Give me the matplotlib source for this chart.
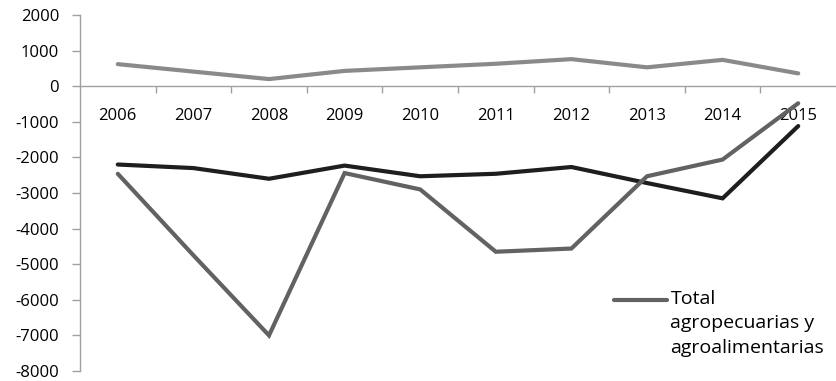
import matplotlib
matplotlib.use("Agg")
import matplotlib.pyplot as plt
from matplotlib.legend_handler import HandlerLine2D
from matplotlib.ticker import FixedLocator

years = ["2006", "2007", "2008", "2009", "2010", "2011", "2012", "2013", "2014", "2015"]
serie_clara = [620, 410, 200, 430, 530, 630, 760, 530, 740, 360]
serie_negra = [-2200, -2300, -2600, -2230, -2530, -2460, -2270, -2720, -3150, -1120]
total_agro = [-2460, -4750, -7000, -2440, -2900, -4650, -4560, -2530, -2060, -480]
yticks = list(range(-8000, 2001, 1000))

plt.rcParams["font.family"] = ["Open Sans", "DejaVu Sans"]

fig = plt.figure(figsize=(8.36, 3.81), dpi=100)
ax = fig.add_axes([80 / 836, 10 / 381, 756 / 836, 356 / 381])

x = list(range(len(years)))
lw = 3.0
ax.plot(x, serie_clara, color="#8a8a8a", lw=lw, solid_capstyle="round", solid_joinstyle="miter")
ax.plot(x, serie_negra, color="#1e1e1e", lw=lw, solid_capstyle="round", solid_joinstyle="miter")
line_total, = ax.plot(x, total_agro, color="#626262", lw=lw, solid_capstyle="round",
                      solid_joinstyle="miter")

ax.set_xlim(-0.5, len(years) - 0.5)
ax.set_ylim(-8000, 2000)
ax.set_yticks(yticks)
ax.set_yticklabels([str(v) for v in yticks])

# category axis sits at zero, ticks between categories
ax.spines["bottom"].set_position(("data", 0))
ax.spines["top"].set_visible(False)
ax.spines["right"].set_visible(False)
for s in ("left", "bottom"):
    ax.spines[s].set_color("#a0a0a0")
    ax.spines[s].set_linewidth(1.0)

ax.set_xticks(x)
ax.set_xticklabels(years)
ax.xaxis.set_minor_locator(FixedLocator([i + 0.5 for i in range(len(years) - 1)]))
ax.tick_params(axis="x", which="major", length=0, pad=16, labelsize=12, labelcolor="black")
ax.tick_params(axis="x", which="minor", length=5, width=1, color="#a0a0a0", direction="out")
ax.tick_params(axis="y", length=6, width=1, color="#a0a0a0", direction="out",
               labelsize=12, labelcolor="black", pad=9)

LEG_FS = 14
LEG_LS = 1.45


class TopLineHandler(HandlerLine2D):
    """Puts the key line level with the first line of a multi-line label."""

    def __init__(self, lift, **kw):
        super().__init__(**kw)
        self.lift = lift

    def create_artists(self, legend, orig_handle, xdescent, ydescent, width, height,
                       fontsize, trans):
        arts = super().create_artists(legend, orig_handle, xdescent, ydescent, width,
                                      height, fontsize, trans)
        for a in arts:
            a.set_ydata([v + self.lift for v in a.get_ydata()])
        return arts


label = "Total\nagropecuarias y\nagroalimentarias"
handler = TopLineHandler(lift=17)
leg = ax.legend([line_total], [label],
                handler_map={line_total: handler}, loc="upper left",
                bbox_to_anchor=(614 / 836, 1 - 290 / 381), bbox_transform=fig.transFigure,
                frameon=False, fontsize=LEG_FS, handlelength=2.75, handletextpad=0.15,
                borderpad=0, borderaxespad=0, labelspacing=0)
for t in leg.get_texts():
    t.set_linespacing(LEG_LS)

fig.savefig("out.png", dpi=100)
